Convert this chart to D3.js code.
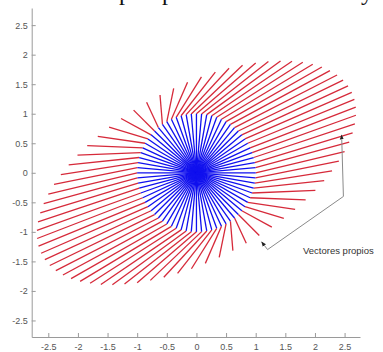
<!DOCTYPE html>
<html><head><meta charset="utf-8">
<script src="https://cdn.jsdelivr.net/npm/d3@7"></script>
<style>body{margin:0;background:#fff;} svg{display:block}</style>
</head><body>
<svg id="c" width="383" height="352"></svg>
<script>
// ---- data ----
const matrixA = [[2.5, 1.0], [0.36, 1.86]];
const redVectorCount = 72;
const blueVectorCount = 72;
const xTickValues = [-2.5, -2, -1.5, -1, -0.5, 0, 0.5, 1, 1.5, 2, 2.5];
const yTickValues = [-2.5, -2, -1.5, -1, -0.5, 0, 0.5, 1, 1.5, 2, 2.5];
const xTickLabels = ["-2.5", "-2", "-1.5", "-1", "-0.5", "0", "0.5", "1", "1.5", "2", "2.5"];
const yTickLabels = ["-2.5", "-2", "-1.5", "-1", "-0.5", "0", "0.5", "1", "1.5", "2", "2.5"];
const annotationLabel = "Vectores propios";
const annotationPath = [[2.45, 0.64], [2.48, -0.40], [1.20, -1.30], [1.10, -1.17]];
const captionGlyphs = ["p", "p", "y"];

// ---- drawing ----
const svg = d3.select("#c");
const x = d3.scaleLinear().domain([-2.78, 2.76]).range([31.7, 360]);
const y = d3.scaleLinear().domain([-2.78, 2.79]).range([337, 8]);

const unitCircle = n => d3.range(n).map(i => 2 * Math.PI * i / n).map(t => [Math.cos(t), Math.sin(t)]);
const redUnit = unitCircle(redVectorCount);
const blueUnit = unitCircle(blueVectorCount);
const mapped = redUnit.map(([a, b]) => [matrixA[0][0] * a + matrixA[0][1] * b, matrixA[1][0] * a + matrixA[1][1] * b]);

// caption descenders (cropped title above)
const capX = [119, 162, 361];
svg.selectAll("text.cap").data(captionGlyphs).join("text")
  .attr("class", "cap")
  .attr("x", (d, i) => capX[i]).attr("y", 0)
  .attr("font-family", "'Liberation Serif', 'Times New Roman', serif")
  .attr("font-size", 24).attr("fill", "#111").text(d => d);

// axes
const axisColor = "#9a9a9a";
const gx = svg.append("g").attr("transform", `translate(0,${y(-2.78)})`)
  .call(d3.axisBottom(x).tickValues(xTickValues).tickFormat((d, i) => xTickLabels[i])
    .tickSizeInner(-4).tickSizeOuter(0).tickPadding(7));
const gy = svg.append("g").attr("transform", `translate(${x(-2.78)},0)`)
  .call(d3.axisLeft(y).tickValues(yTickValues).tickFormat((d, i) => yTickLabels[i])
    .tickSizeInner(-4).tickSizeOuter(0).tickPadding(4));
[gx, gy].forEach(g => {
  g.select(".domain").attr("stroke", axisColor);
  g.selectAll(".tick line").attr("stroke", axisColor);
  g.selectAll(".tick text").attr("fill", "#555")
    .attr("font-family", "'Liberation Sans', Arial, sans-serif").attr("font-size", 9);
});

// red lines x -> A x
svg.append("g").selectAll("line").data(d3.range(redVectorCount)).join("line")
  .attr("x1", i => x(redUnit[i][0])).attr("y1", i => y(redUnit[i][1]))
  .attr("x2", i => x(mapped[i][0])).attr("y2", i => y(mapped[i][1]))
  .attr("stroke", "#d62a3a").attr("stroke-width", 1.3);

// blue lines origin -> x
svg.append("g").selectAll("line").data(blueUnit).join("line")
  .attr("x1", x(0)).attr("y1", y(0))
  .attr("x2", d => x(d[0])).attr("y2", d => y(d[1]))
  .attr("stroke", "#1010ee").attr("stroke-width", 1.3);

// annotation
svg.append("defs").append("marker").attr("id", "ah")
  .attr("viewBox", "0 0 10 10").attr("refX", 9).attr("refY", 5)
  .attr("markerWidth", 5).attr("markerHeight", 5).attr("orient", "auto-start-reverse")
  .append("path").attr("d", "M0,1 L10,5 L0,9 Z").attr("fill", "#222");
svg.append("path")
  .attr("d", d3.line().x(d => x(d[0])).y(d => y(d[1]))(annotationPath))
  .attr("fill", "none").attr("stroke", "#8a8a8a").attr("stroke-width", 1)
  .attr("marker-start", "url(#ah)").attr("marker-end", "url(#ah)");
svg.append("text").attr("x", 303).attr("y", 254)
  .attr("font-family", "'Liberation Sans', Arial, sans-serif").attr("font-size", 9.5)
  .attr("fill", "#333").text(annotationLabel);
</script>
</body></html>
